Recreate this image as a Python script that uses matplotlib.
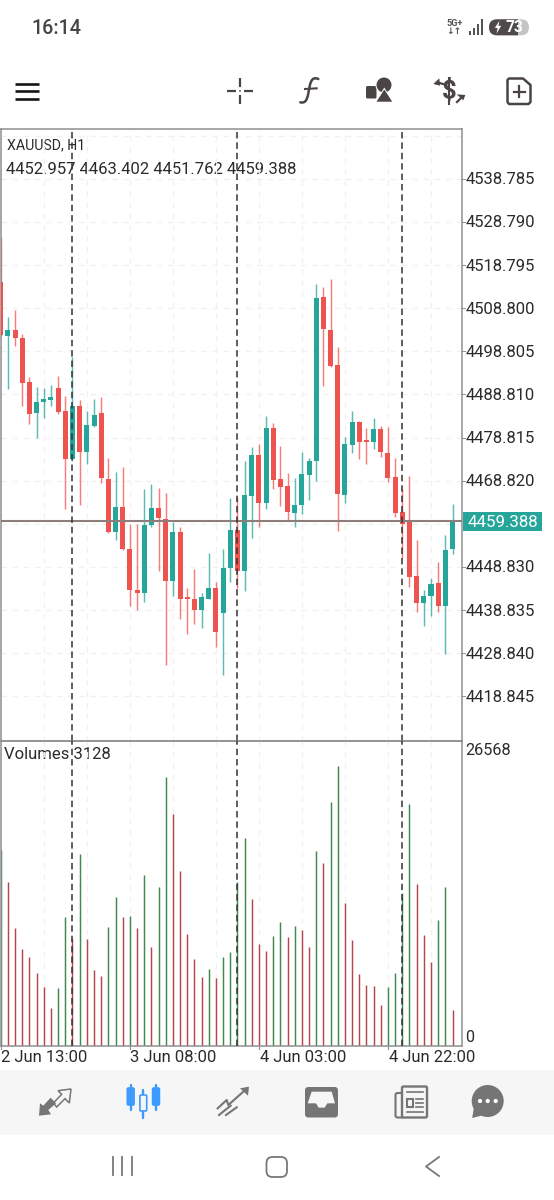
import matplotlib
matplotlib.use("Agg")
import matplotlib.pyplot as plt
import numpy as np
from matplotlib.patches import Rectangle, FancyBboxPatch, Circle, Polygon, PathPatch
from matplotlib.path import Path

plt.rcParams['font.family'] = ['Roboto', 'DejaVu Sans']

# H1 candles, XAUUSD
opens = [4514.8, 4502.3, 4503.7, 4501.8, 4491.6, 4484.4, 4487.0, 4487.5, 4490.3, 4484.9, 4473.8, 4486.1, 4475.4, 4481.4, 4484.4, 4469.1,
         4456.9, 4462.7, 4453.1, 4443.6, 4442.7, 4458.5, 4462.4, 4459.9, 4445.5, 4456.9, 4441.8, 4441.5, 4438.8, 4441.5, 4443.9, 4438.1,
         4448.5, 4457.3, 4447.8, 4465.2, 4474.7, 4463.6, 4481.0, 4469.1, 4467.5, 4461.3, 4463.1, 4470.1, 4473.3, 4511.4, 4503.7, 4495.6,
         4465.4, 4477.0, 4482.4, 4478.2, 4477.7, 4480.7, 4475.2, 4469.6, 4461.5, 4459.2, 4446.7, 4440.4, 4442.2, 4445.0, 4439.7, 4452.957]
highs = [4525.0, 4506.7, 4508.3, 4502.8, 4492.8, 4490.5, 4490.3, 4490.9, 4493.0, 4488.4, 4497.4, 4487.5, 4484.9, 4487.7, 4488.2, 4474.0,
         4470.8, 4471.9, 4458.9, 4458.9, 4466.8, 4468.0, 4467.1, 4465.9, 4459.2, 4458.2, 4443.9, 4448.3, 4442.7, 4452.0, 4445.3, 4452.9,
         4464.7, 4465.0, 4473.3, 4476.6, 4477.3, 4483.8, 4482.1, 4476.8, 4470.5, 4469.4, 4475.4, 4474.0, 4514.4, 4513.7, 4515.5, 4499.8,
         4478.9, 4484.9, 4482.6, 4481.0, 4483.3, 4481.4, 4481.2, 4474.0, 4466.8, 4469.8, 4455.0, 4443.6, 4446.2, 4449.9, 4456.2, 4463.402]
lows = [4502.3, 4490.0, 4500.0, 4486.1, 4481.9, 4478.6, 4483.3, 4486.1, 4484.2, 4462.2, 4473.3, 4463.1, 4472.6, 4481.2, 4468.2, 4456.6,
        4455.0, 4452.7, 4439.9, 4438.8, 4440.6, 4458.2, 4448.0, 4426.2, 4442.2, 4436.7, 4433.4, 4435.5, 4434.6, 4441.3, 4430.2, 4423.7,
        4445.3, 4443.9, 4443.2, 4455.5, 4458.0, 4462.2, 4466.8, 4462.9, 4459.4, 4458.2, 4461.0, 4464.3, 4468.7, 4490.7, 4495.1, 4457.1,
        4463.6, 4475.2, 4473.8, 4472.6, 4476.1, 4474.2, 4468.5, 4460.3, 4450.8, 4444.1, 4438.3, 4435.1, 4437.4, 4438.3, 4428.6, 4451.762]
closes = [4502.5, 4503.7, 4501.8, 4491.4, 4484.2, 4487.0, 4487.7, 4488.2, 4484.7, 4473.8, 4486.1, 4475.4, 4481.7, 4484.0, 4469.4, 4456.9,
          4462.7, 4452.9, 4443.6, 4442.7, 4458.5, 4462.4, 4460.1, 4445.5, 4456.9, 4441.5, 4441.3, 4438.8, 4441.8, 4443.9, 4433.7, 4448.5,
          4457.3, 4447.8, 4465.4, 4474.7, 4463.6, 4481.0, 4468.9, 4467.3, 4461.5, 4463.1, 4470.3, 4473.3, 4511.1, 4503.9, 4495.4, 4465.7,
          4477.3, 4482.4, 4477.7, 4477.7, 4480.7, 4475.4, 4469.4, 4461.3, 4458.9, 4446.4, 4440.4, 4442.0, 4444.8, 4439.7, 4452.7, 4459.388]
volumes = [17070, 14250, 10236, 8404, 7735, 6310, 5089, 3344, 5002, 11196, 9306, 16692, 9277, 6572, 6078, 10382,
           12941, 11196, 11312, 10294, 14889, 8579, 13842, 23351, 20182, 15238, 9742, 7590, 5961, 6688, 5903, 7735,
           8142, 14220, 18088, 12795, 8898, 8259, 9538, 10818, 9480, 10440, 10062, 8579, 16983, 15878, 21199, 24369,
           12475, 9247, 6252, 5263, 5234, 3606, 5147, 6369, 13290, 21083, 14075, 9655, 7270, 10992, 13842, 3128]

price_ticks = [4548.780, 4538.785, 4528.790, 4518.795, 4508.800, 4498.805, 4488.810, 4478.815, 4468.820,
               4458.825, 4448.830, 4438.835, 4428.840, 4418.845]
hidden_price_labels = [4548.780, 4458.825]
time_tick_bars = [0, 18, 36, 54]
time_tick_labels = ['2 Jun 13:00', '3 Jun 08:00', '4 Jun 03:00', '4 Jun 22:00']
grid_bars = list(range(0, 64, 6))
marker_bars = [9.9, 32.9, 55.95]
last_price = 4459.388
volume_max = 26568

BULL = '#26a69a'
BEAR = '#ef5350'
VOL_UP = '#3f8a4c'
VOL_DOWN = '#b5474c'
GRID = '#f1f1f1'
FRAME = '#8f8f8f'
INK = '#2b2b2b'
ICON = '#4a4444'
NAV = '#757575'
BAND = '#f6f6f6'
BLUE = '#3d9bff'
W, H = 554, 1200


def axes_px(fig, x0, y0, x1, y1):
    return fig.add_axes([x0 / W, 1 - y1 / H, (x1 - x0) / W, (y1 - y0) / H])


def zoomed(points, ox, oy, k=3.0):
    # icon outlines are written on a 3x grid anchored at (ox, oy)
    return [(ox + px / k, oy + py / k) for px, py in points]


fig = plt.figure(figsize=(W / 100, H / 100), dpi=100, facecolor='white')
ax_px = axes_px(fig, 0, 0, W, H)
ax_px.set_xlim(0, W)
ax_px.set_ylim(H, 0)
ax_px.axis('off')

FRAME_L, FRAME_R, TOP, SPLIT, BOTTOM = 1, 462, 129, 740.5, 1046
BAR_STEP = 7.17
x_min = (FRAME_L - 0.8) / BAR_STEP
x_max = (FRAME_R - 0.8) / BAR_STEP
PRICE_TOP, PRICE_BOTTOM = 4550.31, 4408.62

ax = axes_px(fig, FRAME_L, TOP, FRAME_R, SPLIT)
axv = axes_px(fig, FRAME_L, SPLIT, FRAME_R, BOTTOM)
for a in (ax, axv):
    a.set_xlim(x_min, x_max)
    a.patch.set_alpha(0)
    a.tick_params(length=0, labelleft=False, labelbottom=False)
    for s in a.spines.values():
        s.set_color(FRAME)
        s.set_linewidth(1.1)
ax.set_ylim(PRICE_BOTTOM, PRICE_TOP)
axv.set_ylim(0, volume_max)

x = np.arange(len(opens))
o, h, l, c = map(np.array, (opens, highs, lows, closes))
colors = np.where(c >= o, BULL, BEAR)

# price panel: grid, candles, last price line
for t in price_ticks:
    ax.axhline(t, color=GRID, lw=1.0, dashes=(4, 4), zorder=0)
for b in grid_bars:
    for a in (ax, axv):
        a.axvline(b, color=GRID, lw=1.0, dashes=(4, 4), zorder=0)

ax.vlines(x, l, h, colors=colors, lw=1.05, alpha=0.75, zorder=2)
ax.bar(x, np.abs(c - o), bottom=np.minimum(o, c), width=0.7, color=colors, linewidth=0, zorder=3)
ax.axhline(last_price, color='#8d7d7b', lw=1.5, zorder=4)

for b in marker_bars:
    for a in (ax, axv):
        a.axvline(b, color='#333333', lw=1.1, dashes=(4.2, 2.6), zorder=5)

# volume panel: green when the bar's volume rises over the previous one
v = np.array(volumes)
rising = np.r_[True, v[1:] > v[:-1]]
axv.vlines(x, 0, v, colors=np.where(rising, VOL_UP, VOL_DOWN), lw=1.05, zorder=2)

# price axis labels
for t in price_ticks:
    if t in hidden_price_labels:
        continue
    ypx = TOP + (PRICE_TOP - t) / (PRICE_TOP - PRICE_BOTTOM) * (SPLIT - TOP)
    ax_px.plot([FRAME_R, FRAME_R + 3], [ypx, ypx], color=FRAME, lw=0.7)
    ax_px.text(466, ypx + 1, f'{t:.3f}', va='center', ha='left', fontsize=12.0, color=INK)

# last price tag
tag_y = TOP + (PRICE_TOP - last_price) / (PRICE_TOP - PRICE_BOTTOM) * (SPLIT - TOP)
ax_px.add_patch(Rectangle((463, tag_y - 9), 79, 19, fc=BULL, ec='none', zorder=6))
ax_px.text(503, tag_y + 0.8, f'{last_price:.3f}', color='white', fontsize=12.2, ha='center', va='center', zorder=7)

# volume axis labels
ax_px.text(465.5, 750.5, f'{volume_max}', fontsize=11.7, color=INK, va='center', ha='left')
ax_px.text(465.5, 1037.5, '0', fontsize=11.7, color=INK, va='center', ha='left')

# time axis
for b, lab in zip(time_tick_bars, time_tick_labels):
    px = 0.8 + BAR_STEP * b
    ax_px.plot([px, px], [BOTTOM, BOTTOM + 3], color=FRAME, lw=0.8)
    ax_px.text(px + 0.6, 1058, lab, fontsize=12.0, color=INK, ha='left', va='center')

# chart captions
ax_px.text(7, 145.5, 'XAUUSD, H1', fontsize=10.2, color=INK, va='center', ha='left', zorder=8)
ax_px.text(6, 169, ' '.join(f'{val:.3f}' for val in (opens[-1], highs[-1], lows[-1], closes[-1])),
           fontsize=12.0, color=INK, va='center', ha='left', zorder=8)
ax_px.text(4, 754.5, f'Volumes {volumes[-1]}', fontsize=12.0, color=INK, va='center', ha='left', zorder=8)

# status bar
ax_px.text(31, 28.5, '16:14', fontsize=14.2, color='#444444', va='center', ha='left', fontweight='medium')
ax_px.text(455, 23.2, '5G+', fontsize=6.6, color='#555555', va='center', ha='center', fontweight='bold')
ax_px.text(453.5, 32, '↓↑', fontsize=6.6, color='#555555', va='center', ha='center', family='DejaVu Sans', fontweight='bold')
for bx, by in zip((468.5, 472.6, 476.8, 481), (31.3, 28, 23.7, 19.3)):
    ax_px.add_patch(Rectangle((bx, by), 2.1, 35.3 - by, fc='#555555', ec='none'))
ax_px.add_patch(FancyBboxPatch((489, 19.3), 40, 16, boxstyle='round,pad=0,rounding_size=8', fc='#c4c4c4', ec='none'))
pill = FancyBboxPatch((489, 19.3), 40, 16, boxstyle='round,pad=0,rounding_size=8', fc='#4e4a4a', ec='none')
ax_px.add_patch(pill)
pill.set_clip_path(Rectangle((489, 19), 29, 17, transform=ax_px.transData))
ax_px.add_patch(Polygon([(499.5, 20.8), (494.8, 28), (497.6, 28), (496.5, 33.5), (501.2, 25.8), (498.4, 25.8)], closed=True, fc='white', ec='none'))
ax_px.text(514.5, 27.9, '73', fontsize=11.2, color='white', va='center', ha='center', fontweight='bold')

# toolbar
for yy in (83.5, 91, 98.5):
    ax_px.plot([15, 39], [yy, yy], color='#151515', lw=1.9, solid_capstyle='butt')
for (x0, y0, x1, y1) in ((227, 91, 236, 91), (244, 91, 253, 91), (240, 78, 240, 87), (240, 95, 240, 104)):
    ax_px.plot([x0, x1], [y0, y1], color=ICON, lw=1.6, solid_capstyle='butt')
ax_px.add_patch(Circle((240, 91), 0.9, fc=ICON, ec='none'))

f_verts = zoomed([(85, 42), (62, 32), (60, 58), (55, 85), (50, 112), (42, 114), (31, 112)], 290, 65)
f_curve = Path(f_verts, [Path.MOVETO] + [Path.CURVE4] * 6)
ax_px.add_patch(PathPatch(f_curve, fc='none', ec=ICON, lw=1.8, capstyle='round'))
bar_pts = zoomed([(45, 72), (80, 70)], 290, 65)
ax_px.plot(*zip(*bar_pts), color=ICON, lw=1.5)

ax_px.add_patch(FancyBboxPatch((366, 86), 10.5, 12.5, boxstyle='round,pad=0,rounding_size=1.5', fc=ICON, ec='none'))
ax_px.add_patch(Circle((384, 85), 8, fc=ICON, ec='white', lw=0.7))
ax_px.add_patch(Polygon([(375, 102.5), (384.3, 87.5), (393.5, 102.5)], closed=True, fc='white', ec='none'))
ax_px.add_patch(Polygon([(376.5, 101.7), (384.3, 89.5), (392.2, 101.7)], closed=True, fc=ICON, ec='none'))

ax_px.text(449.4, 91, '$', fontsize=18.5, color=ICON, ha='center', va='center', fontweight='bold')
ax_px.plot([449.4, 449.4], [77.5, 103.5], color=ICON, lw=1.5)
ax_px.plot(*zip(*[(443, 84), (438, 82.5)]), color=ICON, lw=1.6)
ax_px.add_patch(Polygon(zoomed([(430, 57), (448, 40), (450, 62)], 290, 65), closed=True, fc=ICON, ec='none'))
ax_px.plot(*zip(*[(457, 102), (461, 98)]), color=ICON, lw=1.6)
ax_px.add_patch(Polygon(zoomed([(526, 90), (500, 88), (520, 106)], 290, 65), closed=True, fc=ICON, ec='none'))

doc_pts = [(509, 78.5), (523, 78.5), (530.5, 85), (530.5, 102), (528.5, 104), (509, 104), (507.5, 102), (507.5, 80), (509, 78.5)]
doc = Path(doc_pts, [Path.MOVETO] + [Path.LINETO] * 7 + [Path.CLOSEPOLY])
ax_px.add_patch(PathPatch(doc, fc='white', ec=ICON, lw=1.8, joinstyle='round'))
ax_px.plot([513.8, 524.8], [91.7, 91.7], color=ICON, lw=1.6)
ax_px.plot([519.3, 519.3], [86.2, 97.2], color=ICON, lw=1.6)

# bottom tab bar
ax_px.add_patch(Rectangle((0, 1070), W, 65, fc=BAND, ec='none'))

# trade arrows
ax_px.add_patch(Polygon(zoomed([(57, 122), (60, 85), (70, 92), (92, 68), (108, 85), (85, 105), (93, 118)], 20, 1075),
                        closed=True, fc=NAV, ec='none'))
ax_px.add_patch(Polygon(zoomed([(153, 42), (114, 47), (125, 58), (100, 84), (110, 96), (135, 71), (148, 84)], 20, 1075),
                        closed=True, fc='none', ec=NAV, lw=1.1))

# candles, active tab
for cx, top, bottom, body_top, body_bottom, filled in ((130.7, 1085, 1110, 1088, 1105, True),
                                                       (143.3, 1090, 1118, 1095, 1111, False),
                                                       (156, 1085, 1110, 1088, 1105, True)):
    ax_px.plot([cx, cx], [top, bottom], color=BLUE, lw=1.7, solid_capstyle='round')
    ax_px.add_patch(FancyBboxPatch((cx - 3.4, body_top), 6.8, body_bottom - body_top, boxstyle='round,pad=0,rounding_size=1.2',
                                   fc=BLUE if filled else BAND, ec=BLUE, lw=1.2, zorder=3))

# trend chart
ax_px.plot(*zip(*zoomed([(593, 100), (620, 75), (625, 90), (680, 41)], 20, 1075)), color=NAV, lw=1.5)
ax_px.add_patch(Polygon(zoomed([(687, 35), (660, 40), (684, 62)], 20, 1075), closed=True, fc=NAV, ec='none'))
ax_px.plot(*zip(*zoomed([(597, 120), (632, 92)], 20, 1075)), color=NAV, lw=1.5)
ax_px.plot(*zip(*zoomed([(618, 120), (650, 97)], 20, 1075)), color=NAV, lw=1.5)

# inbox
ax_px.add_patch(FancyBboxPatch((305, 1087), 33, 30.5, boxstyle='round,pad=0,rounding_size=3.5', fc=NAV, ec='none'))
ax_px.add_patch(Polygon(zoomed([(53, 85), (65, 50), (125, 50), (135, 85), (112, 85), (104, 98), (86, 98), (78, 85)], 290, 1075),
                        closed=True, fc=BAND, ec='none'))

# news
ax_px.add_patch(FancyBboxPatch((395.5, 1093), 8, 24.5, boxstyle='round,pad=0,rounding_size=2', fc=BAND, ec=NAV, lw=1.5))
ax_px.add_patch(FancyBboxPatch((402, 1086.5), 25, 31, boxstyle='round,pad=0,rounding_size=1.5', fc=BAND, ec=NAV, lw=1.7))
ax_px.plot([406.5, 423], [1091.7, 1091.7], color=NAV, lw=1.2)
ax_px.add_patch(Rectangle((407.3, 1099), 5.4, 7.8, fc=BAND, ec=NAV, lw=1.5))
for yy in (1099, 1103, 1107.3):
    ax_px.plot([416, 423], [yy, yy], color=NAV, lw=1.2)
ax_px.plot([406.5, 423], [1112.3, 1112.3], color=NAV, lw=1.2)

# chat
ax_px.add_patch(Circle((487.7, 1101), 16, fc=NAV, ec='none'))
ax_px.add_patch(Polygon([(472.2, 1118), (482, 1115.5), (474, 1107)], closed=True, fc=NAV, ec='none'))
for dx in (-7.7, 0, 8):
    ax_px.add_patch(Circle((487.7 + dx, 1101), 2.1, fc='white', ec='none'))

# system navigation
for sx in (112.5, 122, 131.5):
    ax_px.plot([sx, sx], [1157, 1175], color='#777777', lw=1.3)
ax_px.add_patch(FancyBboxPatch((266.5, 1157), 20.5, 20, boxstyle='round,pad=0,rounding_size=6', fc='white', ec='#777777', lw=1.3))
ax_px.plot([439, 426, 439], [1157, 1166.5, 1176], color='#777777', lw=1.3)

fig.savefig('out.png', dpi=100, facecolor='white')
